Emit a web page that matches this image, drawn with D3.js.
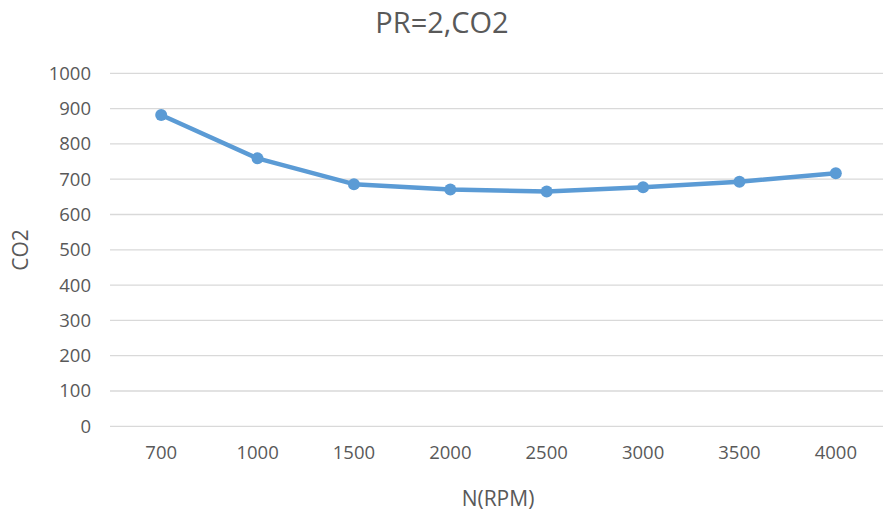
<!doctype html>
<html>
<head>
<meta charset="utf-8">
<script src="https://d3js.org/d3.v7.min.js"></script>
<style>
  body { margin: 0; background: #fff; }
  text { font-family: "Open Sans", "Liberation Sans", sans-serif; fill: #595959; }
</style>
</head>
<body>
<div id="chart"></div>
<script>
// data
var rpm = ["700", "1000", "1500", "2000", "2500", "3000", "3500", "4000"];
var co2 = [882, 759, 686, 671, 665, 677, 693, 717];
var yTicks = [0, 100, 200, 300, 400, 500, 600, 700, 800, 900, 1000];

var W = 884, H = 515;
var plotLeft = 110, plotRight = 883, plotTop = 73.3, plotBottom = 426.3;

var svg = d3.select("#chart").append("svg")
    .attr("width", W)
    .attr("height", H);

// bands shifted a touch right, as in the picture
var x = d3.scaleBand()
    .domain(rpm)
    .range([plotLeft + 3, plotRight + 1]);

var y = d3.scaleLinear()
    .domain([0, 1000])
    .range([plotBottom, plotTop]);

// gridlines
svg.append("g")
    .selectAll("line")
    .data(yTicks)
    .join("line")
    .attr("x1", plotLeft)
    .attr("x2", plotRight)
    .attr("y1", d => y(d))
    .attr("y2", d => y(d))
    .attr("stroke", "#d9d9d9")
    .attr("stroke-width", 1.3);

// y axis labels
var yAxis = svg.append("g")
    .attr("transform", `translate(${plotLeft - 19}, 0)`)
    .call(d3.axisLeft(y).tickValues(yTicks).tickFormat(d3.format("d")).tickSize(0).tickPadding(0));
yAxis.select(".domain").remove();
yAxis.selectAll("text")
    .attr("font-size", "18.5px")
    .style("font-family", "Open Sans, sans-serif")
    .attr("fill", "#595959");

// x axis labels
var xAxis = svg.append("g")
    .attr("transform", `translate(0, ${plotBottom})`)
    .call(d3.axisBottom(x).tickSize(0).tickPadding(20));
xAxis.select(".domain").remove();
xAxis.selectAll("text")
    .attr("font-size", "18.5px")
    .style("font-family", "Open Sans, sans-serif")
    .attr("fill", "#595959");

// line
var line = d3.line()
    .x((d, i) => x(rpm[i]) + x.bandwidth() / 2)
    .y(d => y(d));

svg.append("path")
    .datum(co2)
    .attr("d", line)
    .attr("fill", "none")
    .attr("stroke", "#5b9bd5")
    .attr("stroke-width", 4.5)
    .attr("stroke-linejoin", "round")
    .attr("stroke-linecap", "round");

svg.append("g")
    .selectAll("circle")
    .data(co2)
    .join("circle")
    .attr("cx", (d, i) => x(rpm[i]) + x.bandwidth() / 2)
    .attr("cy", d => y(d))
    .attr("r", 6)
    .attr("fill", "#5b9bd5");

// titles
svg.append("text")
    .attr("x", 442)
    .attr("y", 33)
    .attr("text-anchor", "middle")
    .attr("font-size", "29px")
    .text("PR=2,CO2");

svg.append("text")
    .attr("x", 498)
    .attr("y", 506)
    .attr("text-anchor", "middle")
    .attr("font-size", "21px")
    .text("N(RPM)");

svg.append("text")
    .attr("transform", "translate(28, 250) rotate(-90)")
    .attr("text-anchor", "middle")
    .attr("font-size", "21px")
    .text("CO2");
</script>
</body>
</html>
